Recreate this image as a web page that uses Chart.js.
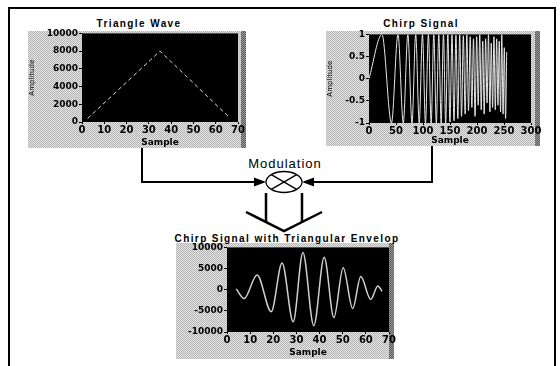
<!DOCTYPE html>
<html>
<head>
<meta charset="utf-8">
<script src="https://cdn.jsdelivr.net/npm/chart.js@4.4.1/dist/chart.umd.min.js"></script>
<style>
  html, body { margin: 0; padding: 0; background: #fff; width: 560px; height: 366px; overflow: hidden; position: relative; }
  .frame { position: absolute; left: 8px; top: 7px; width: 544px; height: 400px; border: 2px solid #000; }
  .panel { position: absolute; background: repeating-conic-gradient(#b4b4b4 0 25%, #e4e4e4 0 50%) 0 0/2px 2px; }
  .panel .edge { position: absolute; right: 0; top: 0; bottom: 0; width: 5px; background: repeating-conic-gradient(#5a5a5a 0 25%, #9a9a9a 0 50%) 0 0/2px 2px; }
  .ttl { position: absolute; font-family: "Liberation Sans", Arial, sans-serif; font-weight: bold; font-size: 10px; letter-spacing: 1.4px; text-align: center; white-space: nowrap; line-height: 12px; color: #000; }
  .mod { position: absolute; font-family: "Liberation Sans", Arial, sans-serif; font-size: 13px; letter-spacing: 1px; text-align: center; line-height: 14px; color: #000; }
  canvas { position: absolute; }
  svg { position: absolute; left: 0; top: 0; }
</style>
</head>
<body>
<div class="frame"></div>

<div class="panel" style="left:28px;top:31px;width:218px;height:117px;"><div class="edge"></div></div>
<div class="panel" style="left:326px;top:31px;width:214px;height:115px;"><div class="edge"></div></div>
<div class="panel" style="left:176px;top:243px;width:218px;height:116px;"><div class="edge"></div></div>

<div class="ttl" style="left:79px;top:18px;width:120px;">Triangle Wave</div>
<div class="ttl" style="left:361px;top:18px;width:120px;">Chirp Signal</div>
<div class="mod" style="left:235px;top:157px;width:100px;">Modulation</div>
<div class="ttl" style="left:137px;top:233px;width:300px;">Chirp Signal with Triangular Envelop</div>

<svg width="560" height="366">
  <g stroke="#000" fill="none" stroke-width="2">
    <polyline points="142,148 142,182 257,182"/>
    <polyline points="432,146 432,182 311,182"/>
    <ellipse cx="284" cy="182" rx="18" ry="10.5" stroke-width="1.3"/>
    <line x1="271.3" y1="174.6" x2="296.7" y2="189.4" stroke-width="1.3"/>
    <line x1="271.3" y1="189.4" x2="296.7" y2="174.6" stroke-width="1.3"/>
    <line x1="266" y1="193" x2="266" y2="222" stroke-width="2.5"/>
    <line x1="302" y1="193" x2="302" y2="222" stroke-width="2.5"/>
    <polyline points="246,212 284,231 322,212" stroke-width="2.5"/>
  </g>
  <polygon points="266,182 254,177.5 254,186.5" fill="#000"/>
  <polygon points="302,182 314,177.5 314,186.5" fill="#000"/>
</svg>

<canvas id="c1" width="220" height="121" style="left:28px;top:27px;width:220px;height:121px;"></canvas>
<canvas id="c2" width="216" height="118" style="left:326px;top:28px;width:216px;height:118px;"></canvas>
<canvas id="c3" width="223" height="117" style="left:176px;top:241px;width:223px;height:117px;"></canvas>

<script>
// ---- Data ----
// Triangle Wave
const triX = [2.5, 35, 66];
const triY = [400, 8000, 550];
const triXTicks = [0, 10, 20, 30, 40, 50, 60, 70];
const triYTicks = [0, 2000, 4000, 6000, 8000, 10000];

// Chirp Signal (extrema positions, frequency rising with sample index)
const chirpX = [0, 24.0, 41.6, 53.7, 63.5, 72.0, 79.6, 86.5, 93.0, 99.0, 104.6,
  110.0, 115.1, 120.0, 124.7, 129.2, 133.6, 137.9, 142.0, 146.0, 149.9,
  153.7, 157.4, 161.0, 164.5, 168.0, 171.4, 174.7, 178.0, 181.2, 184.3,
  187.4, 190.5, 193.5, 196.4, 199.4, 202.2, 205.1, 207.8, 210.6, 213.3,
  216.0, 218.6, 221.3, 223.9, 226.4, 228.9, 231.4, 233.9, 236.4, 238.8,
  241.2, 243.6, 245.9, 248.3, 250.6, 252.9, 255.0];
const chirpY = [0, 1, -1, 1, -1, 1, -1, 1, -1, 1, -1,
  1, -1, 1, -1, 1, -1, 1, -1, 1, -0.98,
  1, -0.95, 0.98, -0.9, 1, -0.85, 0.97, -0.8, 1, -0.72,
  0.95, -0.65, 0.9, -0.85, 0.95, -0.6, 1, -0.7, 0.85, -0.8,
  0.9, -0.55, 1, -0.75, 0.8, -0.65, 0.95, -0.7, 0.9, -0.6,
  0.85, -0.75, 1, -0.8, 0.7, -0.9, 0.6];
const chirpXTicks = [0, 50, 100, 150, 200, 250, 300];
const chirpYTicks = [-1, -0.5, 0, 0.5, 1];

// Chirp Signal with Triangular Envelop (extrema)
const envX = [4.0, 7.4, 13.0, 19.1, 23.8, 28.6, 32.8, 37.5, 42.0, 46.2, 50.2, 54.3, 57.8, 62.1, 65.2, 67.0];
const envY = [200, -2100, 3500, -5200, 6300, -7600, 8800, -8500, 7650, -6600, 5200, -4450, 3100, -2300, 850, -400];
const envXTicks = [0, 10, 20, 30, 40, 50, 60, 70];
const envYTicks = [-10000, -5000, 0, 5000, 10000];

// ---- Drawing ----
const blackArea = {
  id: 'blackArea',
  beforeDraw(chart) {
    const { ctx, chartArea: a } = chart;
    ctx.save();
    ctx.fillStyle = '#000';
    ctx.fillRect(a.left, a.top, a.right - a.left, a.bottom - a.top);
    ctx.restore();
  }
};

const tickFontY = { family: 'DejaVu Sans', weight: 'bold', size: 9 };
const tickFontX = { family: 'DejaVu Sans', weight: 'bold', size: 10 };
const axisTitleFont = { family: 'DejaVu Sans', weight: 'bold', size: 9 };
const yTitleFont = { family: 'DejaVu Sans', size: 7 };

function pts(xs, ys) { return xs.map((x, i) => ({ x: x, y: ys[i] })); }

function makeChart(id, cfg) {
  const xt = cfg.xTicks, yt = cfg.yTicks;
  return new Chart(document.getElementById(id), {
    type: 'line',
    data: {
      datasets: [{
        data: pts(cfg.xs, cfg.ys),
        borderColor: cfg.color,
        borderWidth: cfg.width,
        borderDash: cfg.dash || [],
        pointRadius: 0,
        tension: 0,
        cubicInterpolationMode: cfg.smooth ? 'monotone' : 'default',
        fill: false
      }]
    },
    options: {
      responsive: false,
      animation: false,
      devicePixelRatio: 1,
      layout: { padding: { top: 6, right: cfg.padRight, left: 0, bottom: 0 } },
      plugins: { legend: { display: false }, tooltip: { enabled: false } },
      scales: {
        x: {
          type: 'linear',
          min: xt[0], max: xt[xt.length - 1],
          afterBuildTicks: s => { s.ticks = xt.map(v => ({ value: v })); },
          afterFit: s => { s.height = cfg.xH; },
          ticks: { font: tickFontX, color: '#000', padding: 0, maxRotation: 0, autoSkip: false, callback: v => String(v) },
          grid: { drawOnChartArea: false, drawTicks: true, tickLength: 2, color: '#000' },
          border: { display: false },
          title: { display: true, text: 'Sample', font: axisTitleFont, color: '#000', padding: 0 }
        },
        y: {
          type: 'linear',
          min: yt[0], max: yt[yt.length - 1],
          afterBuildTicks: s => { s.ticks = yt.map(v => ({ value: v })); },
          afterFit: s => { s.width = cfg.yW; },
          ticks: { font: tickFontY, color: '#000', padding: 1, autoSkip: false, callback: v => String(v) },
          grid: { drawOnChartArea: false, drawTicks: true, tickLength: 3, color: '#000' },
          border: { display: false },
          title: { display: cfg.yTitle, text: 'Amplitude', font: yTitleFont, color: '#000', padding: 0 }
        }
      }
    },
    plugins: [blackArea]
  });
}

makeChart('c1', { xs: triX, ys: triY, xTicks: triXTicks, yTicks: triYTicks,
  color: '#d8d8d8', width: 1, dash: [4, 3], smooth: false, padRight: 10, xH: 26, yW: 54, yTitle: true });
makeChart('c2', { xs: chirpX, ys: chirpY, xTicks: chirpXTicks, yTicks: chirpYTicks,
  color: '#e6e6e6', width: 1, smooth: true, padRight: 11, xH: 23, yW: 43, yTitle: true });
makeChart('c3', { xs: envX, ys: envY, xTicks: envXTicks, yTicks: envYTicks,
  color: '#d0d0d0', width: 1.5, smooth: true, padRight: 10, xH: 26, yW: 51, yTitle: false });
</script>
</body>
</html>
